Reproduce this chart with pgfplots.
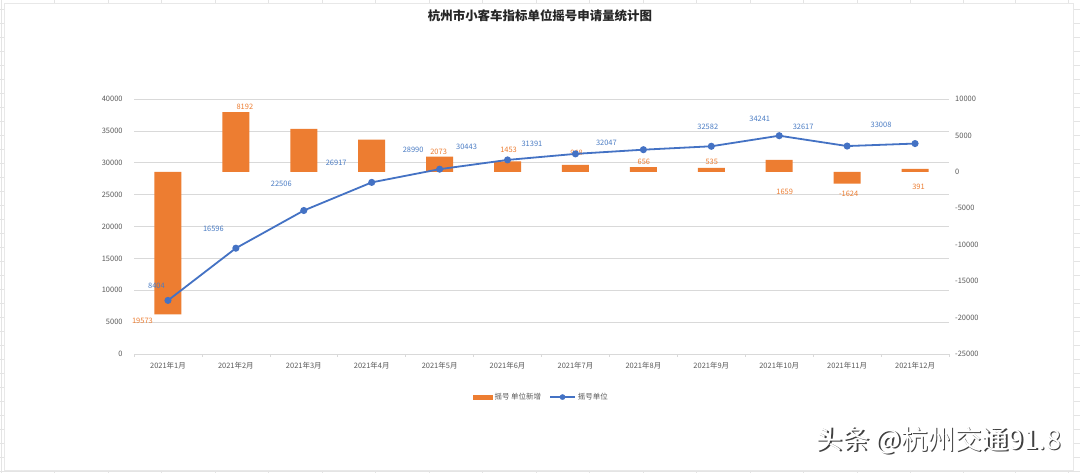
\documentclass[border=0pt]{standalone}
\usepackage{fontspec}
\setmainfont{Noto Sans CJK SC}
\usepackage{pgfplots}
\pgfplotsset{compat=1.18}
\usepackage{pgfplotstable}
\definecolor{barorange}{HTML}{ED7D31}
\definecolor{lineblue}{HTML}{4472C4}
\definecolor{labblue}{HTML}{4A7CC4}
\definecolor{tickgray}{HTML}{595959}
\definecolor{gridgray}{HTML}{D9D9D9}
\definecolor{titlegray}{HTML}{262626}

% cumulative applications (left axis)
\pgfplotstableread{
x y lab dx dy
0 8404 8404 -11.5 14.5
1 16596 16596 -22.5 19
2 22506 22506 -22.5 26.5
3 26917 26917 -35.5 20
4 28990 28990 -26.5 19
5 30443 30443 -41 13
6 31391 31391 -43.5 10
7 32047 32047 -37 7
8 32582 32582 -3.5 19
9 34241 34241 -19.5 17
10 32617 32617 -44 19
11 33008 33008 -34 18.6
}\linedata

% monthly change (right axis)
\pgfplotstableread{
x y
0 -19573
1 8192
2 5910
3 4411
4 2073
5 1453
6 948
7 656
8 535
9 1659
10 -1624
11 391
}\bardata

% data labels shown on bars
\pgfplotstableread{
x y lab dx dy
0 -19573 19573 -25.5 -6.5
1 8192 8192 9 5
4 2073 2073 -1 5
5 1453 1453 1 11
6 948 948 1 11.7
7 656 656 0.5 5.4
8 535 535 0.5 6.3
9 1659 1659 5.5 -31.9
10 -1624 -1624 1.5 -10.3
11 391 391 3.5 -17.6
}\barlabels

\newcommand{\smallfont}{\fontsize{7.5}{9}\selectfont}

\begin{document}
\begin{tikzpicture}[x=1bp,y=1bp]
\useasboundingbox (0,0) rectangle (1080,473);
% spreadsheet background
\begin{scope}[gridgray!70, line width=0.4bp]
\foreach \xx in {1,54,108,161,215,268,322,375,429,482,536,589,643,696,750,803,857,910,963,1015,1068} {\draw (\xx,0) -- (\xx,473);}
\foreach \yy in {2,16,30,44,58,72,86,100,114,128,142,156,170,184,198,212,226,240,254,268,282,296,310,324,338,352,366,380,394,408,422,436,450,464} {\draw (0,\yy) -- (1080,\yy);}
\end{scope}
\fill[white] (4,3) rectangle (1073,470);
\draw[gridgray!60, line width=0.4bp] (4,3) rectangle (1073,470);

\node[font=\fontsize{12.5}{14}\selectfont\bfseries, text=titlegray] at (540,457) {杭州市小客车指标单位摇号申请量统计图};

% axis A: grid, left ticks, x axis, legend
\begin{axis}[
  at={(134bp,119bp)}, anchor=south west,
  scale only axis, width=815bp, height=255bp,
  xmin=-0.5, xmax=11.5, ymin=0, ymax=40000,
  axis x line*=bottom, axis y line*=left,
  y axis line style={draw=none},
  x axis line style={gridgray, line width=0.6bp},
  ytick={0,5000,...,40000},
  scaled y ticks=false,
  ymajorgrids, grid style={gridgray, line width=0.6bp},
  ytick style={draw=none},
  xtick={0,...,11},
  xticklabels={2021年1月,2021年2月,2021年3月,2021年4月,2021年5月,2021年6月,2021年7月,2021年8月,2021年9月,2021年10月,2021年11月,2021年12月},
  major x tick style={draw=none},
  minor xtick={-0.5,0.5,...,11.5},
  minor x tick style={gridgray, line width=0.6bp},
  minor tick length=3bp, tick align=outside,
  xticklabel style={font=\smallfont, text=tickgray, inner sep=0pt, yshift=-4bp},
  yticklabel style={font=\smallfont, text=tickgray, inner sep=0pt, xshift=-7bp},
  /pgf/number format/assume math mode=true,
  /pgf/number format/1000 sep={},
  /pgf/number format/fixed,
  legend columns=2,
  legend style={at={(0.5,-0.169)}, anchor=center, draw=none, fill=none,
    font=\smallfont, text=tickgray,
    /tikz/every even column/.append style={column sep=6bp}},
]
\addlegendimage{legend image code/.code={\fill[barorange] (0bp,-2bp) rectangle (19bp,2bp);}}
\addlegendentry{摇号 单位新增}
\addlegendimage{legend image code/.code={\draw[lineblue, line width=1.8bp] (0bp,0bp) -- (25bp,0bp); \fill[lineblue] (12.5bp,0bp) circle (2.6bp);}}
\addlegendentry{摇号单位}
\end{axis}

% axis B: bars on the right axis
\begin{axis}[
  at={(134bp,119bp)}, anchor=south west,
  scale only axis, width=815bp, height=255bp,
  xmin=-0.5, xmax=11.5, ymin=-25000, ymax=10000,
  axis x line=none, axis y line*=right,
  y axis line style={draw=none},
  ytick={-25000,-20000,...,10000},
  scaled y ticks=false,
  yticklabels={-25000,-20000,-15000,-10000,-5000,0,5000,10000},
  ytick style={draw=none},
  yticklabel style={font=\smallfont, text=tickgray, inner sep=0pt, xshift=6bp},
  clip=false,
]
\addplot[ybar, bar width=27bp, bar shift=0pt, fill=barorange, draw=none] table[x=x,y=y] {\bardata};
\addplot[draw=none, mark=none, nodes near coords, point meta=explicit symbolic,
  visualization depends on={\thisrow{dx}\as\labdx},
  visualization depends on={\thisrow{dy}\as\labdy},
  every node near coord/.append style={anchor=center, inner sep=0pt, font=\smallfont, text=barorange, xshift=\labdx bp, yshift=\labdy bp}]
  table[x=x,y=y,meta=lab] {\barlabels};
\end{axis}

% axis C: line on the left axis
\begin{axis}[
  at={(134bp,119bp)}, anchor=south west,
  scale only axis, width=815bp, height=255bp,
  xmin=-0.5, xmax=11.5, ymin=0, ymax=40000,
  hide axis, clip=false,
]
\addplot[lineblue, line width=1.8bp, mark=*, mark size=2.6bp, mark options={fill=lineblue, draw=lineblue}] table[x=x,y=y] {\linedata};
\addplot[draw=none, mark=none, nodes near coords, point meta=explicit symbolic,
  visualization depends on={\thisrow{dx}\as\labdx},
  visualization depends on={\thisrow{dy}\as\labdy},
  every node near coord/.append style={anchor=center, inner sep=0pt, font=\smallfont, text=labblue, xshift=\labdx bp, yshift=\labdy bp}]
  table[x=x,y=y,meta=lab] {\linedata};
\end{axis}

% watermark
\node[font=\fontsize{27}{28}\selectfont, text=black!75] at (939.8,31.2) {头条 @杭州交通91.8};
\node[font=\fontsize{27}{28}\selectfont, text=white] at (938.5,32.5) {头条 @杭州交通91.8};
\end{tikzpicture}
\end{document}
